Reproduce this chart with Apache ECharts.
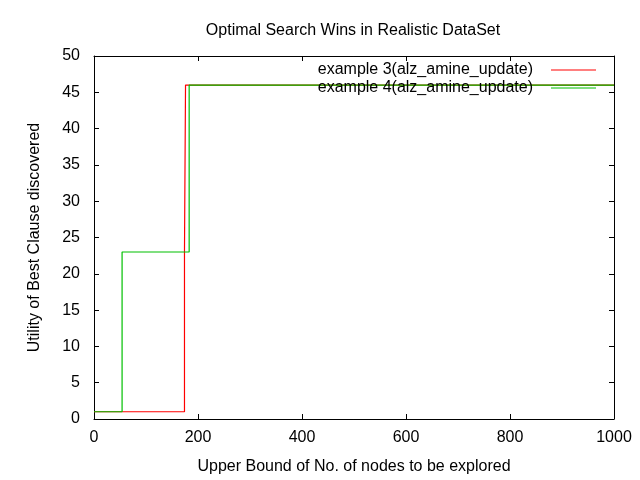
<!DOCTYPE html>
<html>
<head>
<meta charset="utf-8">
<script src="https://cdn.jsdelivr.net/npm/echarts@6/dist/echarts.min.js"></script>
<style>html,body{margin:0;padding:0;background:#fff}#c{width:640px;height:480px}</style>
</head>
<body>
<div id="c"></div>
<script>
var titleText = "Optimal Search Wins in Realistic DataSet";
var xName = "Upper Bound of No. of nodes to be explored";
var yName = "Utility of Best Clause discovered";
var seriesNames = ["example 3(alz_amine_update)", "example 4(alz_amine_update)"];
var redX = [0, 174, 174, 176, 176, 1000];
var redY = [1, 1, 23, 23, 46, 46];
var greenX = [0, 54, 54, 183, 183, 1000];
var greenY = [1, 1, 23, 23, 46, 46];

function pairs(xs, ys){ return xs.map(function(x,i){ return [x, ys[i]]; }); }

var font = "Liberation Sans";
var fs = 16;
var chart = echarts.init(document.getElementById('c'), null, {renderer:'canvas'});
var axisLine = {show:true, onZero:false, lineStyle:{color:'#000', width:1}};
var tick = {show:true, inside:true, length:5, lineStyle:{color:'#000'}};
chart.setOption({
  animation:false,
  backgroundColor:'#fff',
  title:{text:titleText, left:348, top:18, textAlign:'center',
    textStyle:{fontFamily:font, fontSize:fs, fontWeight:'normal', color:'#000'}},
  legend:{
    orient:'vertical', right:39, top:57, align:'right', itemGap:2,
    itemWidth:45, itemHeight:1, icon:'rect',
    textStyle:{fontFamily:font, fontSize:fs, color:'#000', padding:[0,13,0,0]},
    data:seriesNames
  },
  grid:{left:94, right:26, top:56, bottom:61},
  xAxis:[
    {type:'value', min:0, max:1000, interval:200, position:'bottom',
     name:xName, nameLocation:'middle', nameGap:40,
     nameTextStyle:{fontFamily:font, fontSize:fs, color:'#000'},
     axisLine:axisLine, axisTick:tick, splitLine:{show:false},
     axisLabel:{fontFamily:font, fontSize:fs, color:'#000', margin:11,
       formatter:function(v){ return String(v); }}},
    {type:'value', min:0, max:1000, interval:200, position:'top',
     axisLine:axisLine, axisTick:tick, splitLine:{show:false}, axisLabel:{show:false}}
  ],
  yAxis:[
    {type:'value', min:0, max:50, interval:5, position:'left',
     name:yName, nameLocation:'middle', nameGap:51, nameRotate:90,
     nameTextStyle:{fontFamily:font, fontSize:fs, color:'#000'},
     axisLine:axisLine, axisTick:tick, splitLine:{show:false},
     axisLabel:{fontFamily:font, fontSize:fs, color:'#000', margin:14}},
    {type:'value', min:0, max:50, interval:5, position:'right',
     axisLine:axisLine, axisTick:tick, splitLine:{show:false}, axisLabel:{show:false}}
  ],
  series:[
    {name:seriesNames[0], type:'line', data:pairs(redX, redY), showSymbol:false, symbol:'none',
     lineStyle:{color:'#ff0000', width:1.2}, itemStyle:{color:'#ff0000'}},
    {name:seriesNames[1], type:'line', data:pairs(greenX, greenY), showSymbol:false, symbol:'none',
     lineStyle:{color:'#00c000', width:1.2}, itemStyle:{color:'#00c000'}}
  ]
});
</script>
</body>
</html>
